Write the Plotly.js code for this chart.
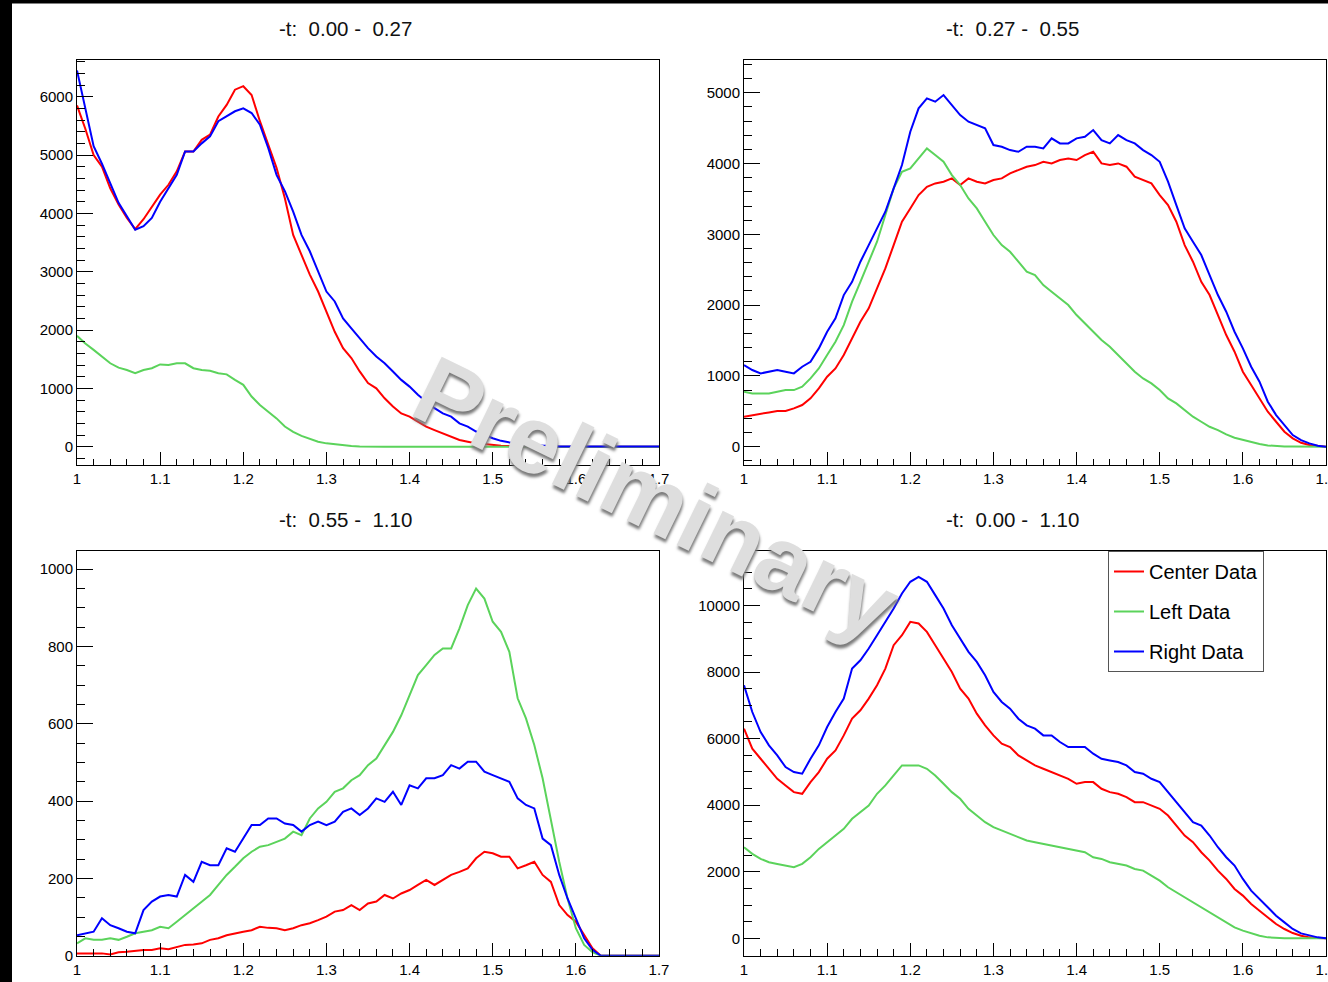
<!DOCTYPE html>
<html>
<head>
<meta charset="utf-8">
<script src="https://cdn.plot.ly/plotly-3.0.1.min.js"></script>
<style>
html,body{margin:0;padding:0;background:#fff;}
#chart{width:1328px;height:982px;}
</style>
</head>
<body>
<div id="chart"></div>
<script>
// invariant mass bin centres (GeV)
const mass = [1.00,1.01,1.02,1.03,1.04,1.05,1.06,1.07,1.08,1.09,
              1.10,1.11,1.12,1.13,1.14,1.15,1.16,1.17,1.18,1.19,
              1.20,1.21,1.22,1.23,1.24,1.25,1.26,1.27,1.28,1.29,
              1.30,1.31,1.32,1.33,1.34,1.35,1.36,1.37,1.38,1.39,
              1.40,1.41,1.42,1.43,1.44,1.45,1.46,1.47,1.48,1.49,
              1.50,1.51,1.52,1.53,1.54,1.55,1.56,1.57,1.58,1.59,
              1.60,1.61,1.62,1.63,1.64,1.65,1.66,1.67,1.68,1.69,
              1.70];

const panelTitles = ['-t:  0.00 -  0.27', '-t:  0.27 -  0.55', '-t:  0.55 -  1.10', '-t:  0.00 -  1.10'];
const seriesNames = ['Center Data', 'Left Data', 'Right Data'];

// -t: 0.00 - 0.27
const center_t1 = [5850,5450,5000,4800,4430,4150,3920,3730,3900,4120,
                   4320,4490,4720,5060,5060,5260,5350,5660,5860,6120,
                   6180,6030,5580,5180,4780,4260,3630,3290,2950,2660,
                   2320,1970,1690,1520,1290,1090,1000,830,690,570,
                   515,430,345,285,230,170,115,85,57,46,
                   29,17,10,5,0,0,0,0,0,0,
                   0,0,0,0,0,0,0,0,0,0,
                   0];
const left_t1   = [1900,1770,1660,1545,1430,1355,1315,1260,1315,1345,
                   1410,1400,1430,1430,1345,1315,1300,1260,1240,1145,
                   1060,860,715,600,485,345,255,185,130,85,
                   57,40,23,11,5,0,0,0,0,0,
                   0,0,0,0,0,0,0,0,0,0,
                   0,0,0,0,0,0,0,0,0,0,
                   0,0,0,0,0,0,0,0,0,0,
                   0];
const right_t1  = [6450,5800,5150,4850,4500,4180,3950,3720,3780,3920,
                   4200,4430,4660,5060,5060,5200,5320,5580,5660,5750,
                   5800,5720,5520,5120,4660,4380,4030,3630,3350,3000,
                   2660,2490,2200,2030,1860,1690,1545,1430,1290,1145,
                   1030,890,770,660,570,515,400,345,260,200,
                   145,100,70,45,30,20,15,10,5,3,
                   2,2,2,2,2,2,2,2,2,2,
                   2];

// -t: 0.27 - 0.55
const center_t2 = [424,447,471,485,504,504,541,589,683,824,
                   989,1106,1295,1530,1766,1954,2236,2519,2848,3178,
                   3366,3555,3672,3719,3743,3790,3696,3790,3743,3719,
                   3766,3790,3861,3908,3955,3978,4025,4001,4049,4072,
                   4049,4119,4166,4001,3978,4001,3955,3813,3766,3719,
                   3555,3413,3178,2848,2613,2330,2142,1860,1577,1342,
                   1059,871,683,494,353,212,118,56,24,9,
                   0];
const left_t2   = [777,753,753,753,777,800,800,847,965,1106,
                   1295,1483,1718,2048,2330,2613,2895,3272,3649,3884,
                   3931,4072,4214,4119,4025,3837,3696,3507,3366,3178,
                   2990,2848,2754,2613,2472,2425,2283,2189,2095,2001,
                   1860,1742,1624,1507,1412,1295,1177,1059,965,895,
                   800,683,612,518,424,353,282,235,174,127,
                   94,61,38,19,9,5,3,2,1,0,
                   0];
const right_t2  = [1153,1083,1036,1059,1083,1059,1036,1130,1200,1389,
                   1624,1813,2142,2330,2613,2848,3084,3319,3649,3978,
                   4449,4779,4920,4873,4967,4826,4684,4590,4543,4496,
                   4261,4237,4190,4166,4237,4237,4214,4355,4284,4284,
                   4355,4378,4473,4331,4284,4402,4331,4284,4190,4119,
                   4025,3743,3413,3084,2895,2707,2425,2142,1907,1624,
                   1389,1130,918,636,447,306,165,94,47,14,
                   0];

// -t: 0.55 - 1.10
const center_t3 = [6,6,6,6,3,9,10,12,15,15,
                   19,17,23,28,29,32,41,45,53,58,
                   62,66,75,72,71,66,71,79,84,92,
                   101,114,118,131,118,135,140,157,148,161,
                   170,183,196,183,196,209,217,226,252,269,
                   265,256,256,226,234,243,209,191,131,105,
                   88,53,19,0,0,0,0,0,0,0,
                   0];
const left_t3   = [32,45,41,41,45,41,49,58,62,66,
                   75,71,88,105,122,140,157,183,209,230,
                   252,269,282,286,295,303,321,312,355,381,
                   398,424,433,454,467,493,510,545,579,622,
                   674,726,752,778,795,795,847,907,950,924,
                   864,838,786,666,614,545,459,347,243,148,
                   71,28,9,0,0,0,0,0,0,0,
                   0];
const right_t3  = [53,58,62,97,79,71,62,58,118,140,
                   153,157,153,209,191,243,234,234,278,269,
                   303,338,338,355,355,342,338,321,338,347,
                   338,347,372,381,364,381,407,398,424,390,
                   441,433,459,459,467,493,484,502,502,476,
                   467,459,450,407,390,381,303,286,209,148,
                   97,45,15,0,0,0,0,0,0,0,
                   0];

// -t: 0.00 - 1.10
const center_t4 = [6299,5697,5396,5095,4794,4594,4393,4343,4694,4995,
                   5396,5647,6098,6600,6851,7202,7603,8104,8806,9107,
                   9508,9458,9208,8806,8405,8004,7502,7202,6750,6399,
                   6098,5847,5747,5496,5346,5196,5095,4995,4895,4794,
                   4644,4694,4694,4493,4393,4343,4243,4092,4092,3992,
                   3892,3691,3390,3089,2889,2588,2337,2036,1785,1484,
                   1284,1033,832,632,431,281,160,80,30,10,
                   0];
const left_t4   = [2738,2538,2387,2287,2237,2187,2136,2237,2437,2688,
                   2889,3089,3290,3591,3791,3992,4343,4594,4895,5196,
                   5196,5196,5095,4895,4644,4393,4193,3892,3691,3490,
                   3340,3240,3139,3039,2939,2889,2838,2788,2738,2688,
                   2638,2588,2437,2387,2287,2237,2187,2086,2036,1886,
                   1735,1535,1384,1234,1083,933,782,632,481,331,
                   231,150,80,30,10,0,0,0,0,0,
                   0];
const right_t4  = [7603,6800,6199,5797,5496,5145,4995,4945,5396,5797,
                   6349,6800,7202,8104,8355,8706,9107,9508,9910,10361,
                   10712,10862,10712,10311,9910,9408,9007,8606,8305,7904,
                   7402,7101,6901,6600,6399,6299,6098,6098,5898,5747,
                   5747,5747,5547,5396,5346,5296,5196,4995,4945,4794,
                   4694,4393,4092,3791,3490,3390,3089,2738,2437,2187,
                   1785,1434,1184,933,682,481,281,150,80,30,
                   0];

const panelData = [
  [center_t1, left_t1, right_t1],
  [center_t2, left_t2, right_t2],
  [center_t3, left_t3, right_t3],
  [center_t4, left_t4, right_t4]
];

// ---------- styling ----------
const W = 1328, H = 982;
const FONT = 'Liberation Sans, Arial, Helvetica, sans-serif';
const colors = ['#ff0000', '#5bd35b', '#0000ff'];
const px = v => v / W;
const py = v => 1 - v / H;

const xDomLeft  = [px(77),  px(659)];
const xDomRight = [px(744), px(1326)];
const yDomTop   = [py(465), py(60)];
const yDomBot   = [py(955.7), py(551)];

const yRanges = [[-314, 6629], [-258, 5462], [0, 1047], [-521, 11637]];
const yDticks = [1000, 1000, 200, 2000];
const yMinor  = [200, 200, 50, 500];
const xDomains = [xDomLeft, xDomRight, xDomLeft, xDomRight];
const yDomains = [yDomTop, yDomTop, yDomBot, yDomBot];
const titleCentres = [[345, 28], [1012, 28], [345, 519], [1012, 519]];

const traces = [];
panelData.forEach((set, p) => {
  const sfx = p === 0 ? '' : String(p + 1);
  set.forEach((vals, s) => {
    traces.push({
      x: mass, y: vals,
      xaxis: 'x' + sfx, yaxis: 'y' + sfx,
      type: 'scatter', mode: 'lines',
      name: seriesNames[s], legendgroup: seriesNames[s],
      showlegend: p === 3,
      line: {color: colors[s], width: 2, shape: 'linear'},
      hoverinfo: 'skip'
    });
  });
});

const layout = {
  width: W, height: H,
  margin: {l: 0, r: 0, t: 0, b: 0},
  paper_bgcolor: '#ffffff', plot_bgcolor: '#ffffff',
  font: {family: FONT, color: '#000'},
  showlegend: true,
  legend: {
    x: px(1108), y: py(551), xanchor: 'left', yanchor: 'top',
    bgcolor: '#ffffff', bordercolor: '#555', borderwidth: 1,
    font: {family: FONT, size: 20, color: '#000'},
    tracegroupgap: 11, itemwidth: 30
  },
  annotations: [],
  shapes: [
    {type: 'rect', xref: 'paper', yref: 'paper', x0: 0, x1: px(12), y0: 0, y1: 1,
     fillcolor: '#000', line: {width: 0}, layer: 'above'},
    {type: 'rect', xref: 'paper', yref: 'paper', x0: 0, x1: 1, y0: py(3.5), y1: 1,
     fillcolor: '#000', line: {width: 0}, layer: 'above'}
  ]
};

for (let p = 0; p < 4; p++) {
  const sfx = p === 0 ? '' : String(p + 1);
  layout['xaxis' + sfx] = {
    domain: xDomains[p], anchor: 'y' + sfx,
    range: [1, 1.7], tick0: 1, dtick: 0.1,
    ticks: 'inside', ticklen: 13, tickwidth: 1, tickcolor: '#000',
    minor: {dtick: 0.02, ticks: 'inside', ticklen: 6.5, tickcolor: '#000', tickwidth: 1, showgrid: false},
    showline: true, mirror: true, linecolor: '#000', linewidth: 1,
    showgrid: false, zeroline: false, fixedrange: true,
    ticklabeloverflow: 'allow',
    tickfont: {family: FONT, size: 15, color: '#000'}
  };
  layout['yaxis' + sfx] = {
    domain: yDomains[p], anchor: 'x' + sfx,
    range: yRanges[p], tick0: 0, dtick: yDticks[p],
    ticks: 'inside', ticklen: 16, tickwidth: 1, tickcolor: '#000',
    minor: {dtick: yMinor[p], ticks: 'inside', ticklen: 8, tickcolor: '#000', tickwidth: 1, showgrid: false},
    showline: true, mirror: true, linecolor: '#000', linewidth: 1,
    showgrid: false, zeroline: false, fixedrange: true,
    tickformat: 'd',
    tickfont: {family: FONT, size: 15, color: '#000'}
  };
  layout.annotations.push({
    text: panelTitles[p].replace(/  /g, '\u00a0 '),
    xref: 'paper', yref: 'paper',
    x: px(titleCentres[p][0]), y: py(titleCentres[p][1]),
    xanchor: 'center', yanchor: 'middle', showarrow: false,
    font: {family: FONT, size: 20.5, color: '#111'}
  });
}

// "Preliminary" watermark
layout.annotations.push({
  text: 'Preliminary',
  xref: 'paper', yref: 'paper', x: px(656), y: py(498),
  xanchor: 'center', yanchor: 'middle', showarrow: false,
  textangle: 26,
  font: {family: FONT, size: 96, weight: 'bold', color: '#dedede', shadow: '2px 3px 3px #7a7a7a'}
});

Plotly.newPlot('chart', traces, layout, {staticPlot: true, displayModeBar: false});
</script>
</body>
</html>
